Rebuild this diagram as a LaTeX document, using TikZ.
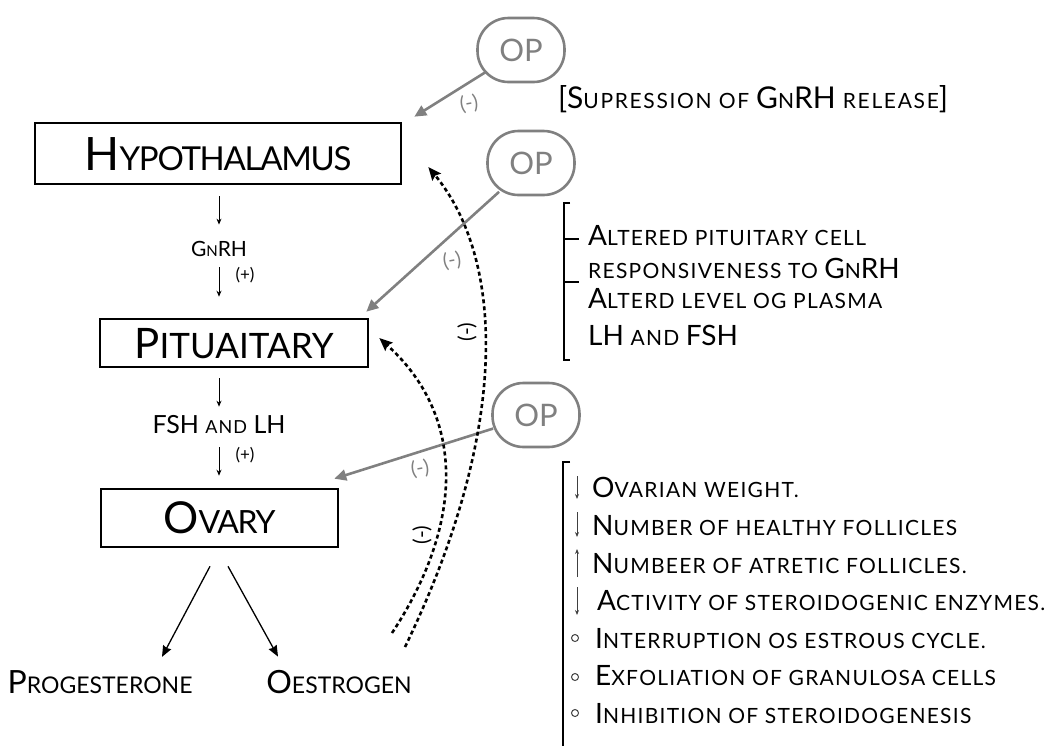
\documentclass[tikz,border=0pt]{standalone}
\usepackage{fontspec}
\setmainfont{Lato}
\newfontfamily\lspwide{Lato}[LetterSpace=6]
\newfontfamily\lspwider{Lato}[LetterSpace=8]
\newfontfamily\lsptight{Lato}[LetterSpace=-4]
\usetikzlibrary{arrows.meta,calc}
\definecolor{opgray}{RGB}{128,128,128}
\def\spfam{}
\newcommand\Lg[1]{{\fontsize{\lsz}{\lsz}\selectfont #1}}
\newcommand\Sm[1]{{\spfam\fontsize{\ssz}{\lsz}\selectfont #1}}
\newcommand\sz[3]{\def\lsz{#1}\def\ssz{#2}\def\spfam{#3}\fontsize{#1}{#1}\selectfont}
\tikzset{
  box/.style={draw, line width=2.6pt, inner sep=0pt, text depth=0pt},
  txt/.style={inner sep=0pt, anchor=base},
  txtw/.style={inner sep=0pt, anchor=base west},
  opnode/.style={draw=opgray, line width=2.6pt, rounded corners=31pt, minimum width=87pt, minimum height=64pt, text=opgray, inner sep=0pt, font=\fontsize{31}{31}\selectfont},
  sarrow/.style={line width=0.9pt, -{Stealth[length=6pt,width=5pt]}},
  parrow/.style={line width=1.3pt, -{Stealth[length=11pt,width=9pt,inset=1pt]}},
  garrow/.style={draw=opgray, line width=2.6pt, -{Triangle[length=12pt,width=11pt]}, color=opgray},
  dotarrow/.style={line width=2.6pt, dash pattern=on 4pt off 3pt, -{Stealth[length=13pt,width=11pt,inset=2pt]}},
  glabel/.style={text=opgray, inner sep=0pt, font=\fontsize{20}{20}\selectfont},
  dlabel/.style={inner sep=0pt, font=\fontsize{21}{21}\selectfont, rotate=90},
  brk/.style={line width=2.4pt},
  tarrow/.style={line width=0.8pt, draw=black!75, -{Stealth[length=5pt,width=4pt]}},
  bul/.style={circle, draw=black!75, line width=1pt, minimum size=7pt, inner sep=0pt},
}
\begin{document}
\begin{tikzpicture}[x=1pt,y=-1pt]
\useasboundingbox (0,0) rectangle (1056,745);
% main boxes
\node[box, minimum width=366pt, minimum height=61pt, text height=33pt, font=\sz{46}{33}{\lsptight}] (hyp) at (218,153.5) {\Lg{H}\Sm{YPOTHALAMUS}};
\node[box, minimum width=268pt, minimum height=48pt, text height=30pt, font=\sz{42}{35}{}] (pit) at (234,343) {\Lg{P}\Sm{ITUAITARY}};
\node[box, minimum width=237pt, minimum height=58pt, text height=31pt, font=\sz{44}{32}{\lsptight}] (ov) at (219.5,518) {\Lg{O}\Sm{VARY}};
% hormones
\node[txt, font=\sz{21}{15}{}] (gnrh) at (219,256) {\Lg{G}\Sm{N}\Lg{RH}};
\node[txt, font=\sz{25}{18}{\lspwide}] (fsh) at (219,433) {\Lg{FSH} \Sm{AND} \Lg{LH}};
\node[txt, font=\fontsize{17}{17}\selectfont] (plus1) at (245,280) {(+)};
\node[txt, font=\fontsize{17}{17}\selectfont] (plus2) at (245,460) {(+)};
\draw[sarrow, shorten <=11pt, shorten >=16pt] (hyp.south -| gnrh.base) -- (gnrh.north);
\draw[sarrow, shorten <=11pt, shorten >=21pt] (gnrh.base) -- (gnrh.base |- pit.north);
\draw[sarrow, shorten <=10pt, shorten >=8pt] (pit.south -| fsh.base) -- (fsh.north);
\draw[sarrow, shorten <=14pt, shorten >=12pt] (fsh.base) -- (fsh.base |- ov.north);
% products
\node[txt, font=\sz{32}{23}{}] (prog) at (100,693) {\Lg{P}\Sm{ROGESTERONE}};
\node[txt, font=\sz{32}{23}{}] (oest) at (339,693) {\Lg{O}\Sm{ESTROGEN}};
\draw[parrow] ($(ov.south)+(-9.5,18)$) -- ($(prog.north)+(62,-13)$);
\draw[parrow] ($(ov.south)+(8.5,18)$) -- ($(oest.north)+(-61,-13)$);
% OP nodes
\node[opnode] (op1) at (521,50) {OP};
\node[opnode] (op2) at (531,163) {OP};
\node[opnode] (op3) at (536,415) {OP};
\draw[garrow, shorten <=42pt] (op1.center) -- ($(hyp.north east)+(12,-5)$);
\draw[garrow, shorten <=43pt] (op2.center) -- ($(pit.north east)+(-3,-6)$);
\draw[garrow, shorten <=45pt] (op3.center) -- ($(ov.north east)+(-5,-9)$);
\node[glabel, rotate=10] (m1) at (469,104) {(-)};
\node[glabel, rotate=10] (m2) at (452,261) {(-)};
\node[glabel, rotate=10] (m3) at (420,469) {(-)};
% dotted feedback
\coordinate (s1) at (405,647);
\coordinate (s2) at (392,633);
\draw[dotarrow] (s1) .. controls (510,430) and (505,260) .. ($(hyp.east)+(26,13.5)$);
\draw[dotarrow] (s2) .. controls (460,530) and (470,420) .. ($(pit.east)+(10,-5)$);
\node[dlabel] (d1) at (467,332) {(-)};
\node[dlabel] (d2) at (422,535) {(-)};
% right texts
\node[txtw, font=\sz{30}{21}{\lspwider}] (sup) at (558,108) {[\Lg{S}\Sm{UPRESSION OF }\Lg{G}\Sm{N}\Lg{RH}\Sm{ RELEASE}]};
\draw[brk] (570,203) -- (564,203) -- (564,360) -- (570,360);
\draw[brk] (564,239) -- (579,239);
\draw[brk] (564,282) -- (579,282);
\node[txtw, font=\sz{28}{21}{\lspwide}] (l1) at (588,245) {\Lg{A}\Sm{LTERED PITUITARY CELL}};
\node[txtw, font=\sz{28}{21}{\lspwide}] (l2) at (588,278) {\Sm{RESPONSIVENESS TO }\Lg{G}\Sm{N}\Lg{RH}};
\node[txtw, font=\sz{28}{21}{\lspwide}] (l3) at (588,308) {\Lg{A}\Sm{LTERD LEVEL OG PLASMA}};
\node[txtw, font=\sz{28}{21}{\lspwide}] (l4) at (588,345) {\Lg{LH}\Sm{ AND }\Lg{FSH}};
% list
\draw[brk] (570,462) -- (563,462) -- (563,750);
\node[txtw, font=\sz{28}{21}{\lspwide}] (i1) at (592,497) {\Lg{O}\Sm{VARIAN WEIGHT.}};
\node[txtw, font=\sz{28}{21}{\lspwide}] (i2) at (592,535) {\Lg{N}\Sm{UMBER OF HEALTHY FOLLICLES}};
\node[txtw, font=\sz{28}{21}{\lspwide}] (i3) at (592,573) {\Lg{N}\Sm{UMBEER OF ATRETIC FOLLICLES.}};
\node[txtw, font=\sz{28}{21}{\lspwide}] (i4) at (597,610) {\Lg{A}\Sm{CTIVITY OF STEROIDOGENIC ENZYMES.}};
\node[txtw, font=\sz{28}{21}{\lspwide}] (i5) at (595,648) {\Lg{I}\Sm{NTERRUPTION OS ESTROUS CYCLE.}};
\node[txtw, font=\sz{28}{21}{\lspwide}] (i6) at (595,685) {\Lg{E}\Sm{XFOLIATION OF GRANULOSA CELLS}};
\node[txtw, font=\sz{28}{21}{\lspwide}] (i7) at (595,723) {\Lg{I}\Sm{NHIBITION OF STEROIDOGENESIS}};
\draw[tarrow] (577,476) -- (577,499);
\draw[tarrow] (577,512) -- (577,537);
\draw[tarrow] (577,577) -- (577,549);
\draw[tarrow] (577,587) -- (577,615);
\node[bul] (b1) at (575,638) {};
\node[bul] (b2) at (575,677) {};
\node[bul] (b3) at (575,713) {};
\end{tikzpicture}
\end{document}
